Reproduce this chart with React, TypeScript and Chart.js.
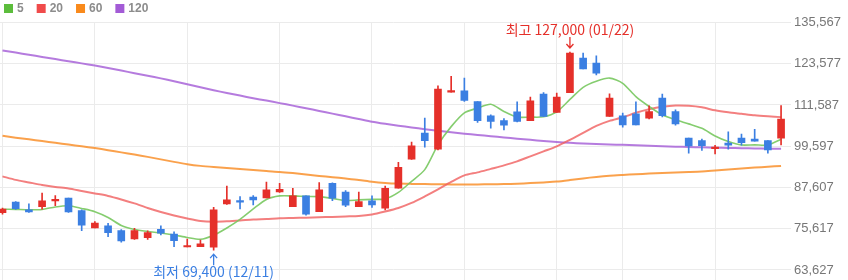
import React, { useEffect, useRef } from 'react';
import { Chart, registerables } from 'chart.js';

Chart.register(...registerables);

// ---- data ----
const opens = [
  80300, 83400, 81100, 82050, 83700, 84500, 80900, 75850, 76450, 75050,
  72650, 73050, 75450, 74100, 70300, 70400, 70250, 82850, 83700, 84800,
  84600, 86300, 82050, 85150, 80600, 88850, 86300, 82050, 83700, 81600,
  87400, 95850, 103400, 98750, 115350, 115700, 112600, 108450, 107050, 109600,
  107050, 114750, 109400, 115200, 125250, 123800, 108250, 108450, 109000, 107750,
  113600, 109700, 101950, 101250, 98900, 100500, 101950, 101650, 101250, 101950,
];
const highs = [
  81600, 83500, 82850, 85950, 85250, 84550, 81100, 77700, 77200, 75400,
  75750, 75000, 76500, 74750, 72600, 72350, 81850, 88050, 84950, 85250,
  89150, 88850, 87400, 85150, 89050, 88950, 86700, 86300, 85150, 88050,
  94950, 100800, 107750, 117150, 119900, 119400, 112600, 108750, 107650, 112500,
  113900, 115200, 115050, 127000, 126700, 125900, 114850, 109250, 112500, 111350,
  114750, 110200, 101950, 101650, 99900, 103800, 103100, 104550, 101250, 111450,
];
const lows = [
  79850, 81200, 80350, 81300, 82350, 80350, 75050, 75850, 73300, 71700,
  72500, 72550, 73800, 70400, 70300, 70400, 69400, 82700, 81400, 82550,
  84600, 86200, 82050, 79550, 80600, 83800, 82050, 82050, 81850, 81100,
  87400, 95800, 99350, 98550, 115350, 112600, 106500, 104850, 104350, 106700,
  107000, 108250, 109400, 115200, 122050, 120300, 108250, 105150, 105800, 107550,
  108150, 105750, 97600, 98350, 97400, 98750, 99900, 101050, 97600, 100000,
];
const closes = [
  81300, 81450, 80500, 83700, 84200, 80500, 76650, 77300, 74500, 72050,
  75050, 74500, 74300, 72150, 70500, 71200, 81100, 84000, 83350, 84000,
  86900, 87100, 85150, 79850, 86900, 84500, 82450, 83500, 82550, 87400,
  93500, 99700, 101250, 116200, 115700, 112900, 107050, 106800, 105750, 106800,
  112800, 108250, 113900, 126700, 122050, 120850, 113600, 105800, 105800, 109700,
  108450, 106100, 99700, 99800, 99350, 99900, 100650, 101050, 98550, 107500,
];
const ma5 = [
  81291, 81233, 81145, 81233, 81960, 82309, 81524, 80592, 78905, 76577,
  75413, 74831, 74394, 73812, 73085, 72561, 73750, 75849, 78323, 81378,
  84143, 85161, 85161, 85016, 84957, 84434, 83793, 83997, 84143, 84288,
  86180, 89400, 92800, 100000, 105300, 109300, 110700, 111800, 109700, 108063,
  108063, 108150, 109605, 113200, 116735, 118481, 119412, 117900, 114000, 111147,
  108732, 107277, 106100, 104800, 102600, 100962, 99950, 100002, 99950, 101600,
];
const ma20 = [
  90836, 89817, 89090, 88362, 87780, 87344, 86616, 85889, 85161, 84143,
  82979, 81669, 80505, 79487, 78614, 77886, 77682, 77799, 78032, 78323,
  78468, 78672, 78759, 78846, 78963, 79050, 79196, 79341, 79778, 80651,
  81669, 83124, 85016, 87053, 89235, 91127, 92000, 93018, 94037, 95201,
  96656, 98111, 99566, 101457, 103494, 105531, 106986, 108005, 109314, 110333,
  111060, 111438, 111351, 110915, 110042, 109460, 109023, 108587, 108296, 108063,
];
const ma60 = [
  102621, 102097, 101603, 101108, 100584, 100089, 99595, 99071, 98460, 97820,
  97179, 96510, 95783, 95055, 94386, 93891, 93542, 93251, 92960, 92669,
  92378, 92145, 91796, 91388, 90981, 90603, 90224, 89817, 89293, 88944,
  88740, 88653, 88595, 88537, 88508, 88508, 88508, 88537, 88595, 88711,
  88886, 89090, 89322, 89759, 90254, 90690, 91039, 91272, 91476, 91650,
  91825, 91970, 92116, 92291, 92582, 92873, 93134, 93396, 93658, 93891,
];
const ma120 = [
  127444, 126832, 126192, 125552, 124941, 124301, 123689, 123049, 122351, 121594,
  120838, 120081, 119324, 118510, 117637, 116735, 115891, 115076, 114319, 113563,
  112864, 112137, 111409, 110653, 109867, 109081, 108296, 107510, 106724, 106113,
  105560, 105065, 104571, 104105, 103669, 103261, 102883, 102505, 102155, 101806,
  101457, 101137, 100817, 100584, 100409, 100264, 100118, 100002, 99857, 99711,
  99595, 99478, 99362, 99275, 99187, 99100, 99013, 98954, 98896, 98838,
];
const maLabels = ['5', '20', '60', '120'];
const yTicks = [63627, 75617, 87607, 99597, 111587, 123577, 135567];
const xGridAt = [0, 7, 14, 21, 28, 35, 42, 47, 54];
const hiDate = '01/22';
const loDate = '12/11';

// ---- styles ----
const UP = '#e5302a';
const DOWN = '#3b7fe2';
const MA_SOLID = ['#5cbd3c', '#f04b4b', '#f98a1c', '#a35bd6'];
const MA_LINE = [
  'rgba(120,200,95,0.9)',
  'rgba(240,95,95,0.8)',
  'rgba(249,145,45,0.85)',
  'rgba(168,100,216,0.85)',
];
const GRID = '#ebebeb';
const fmt = (v: number) => Math.round(v).toLocaleString('en-US');

const legendPlugin = {
  id: 'maLegend',
  afterDraw(chart: any) {
    const ctx = chart.ctx;
    ctx.save();
    ctx.font = 'bold 12px "Liberation Sans", Arial, sans-serif';
    ctx.textBaseline = 'middle';
    ctx.textAlign = 'left';
    let x = 4;
    chart.data.datasets.forEach((ds: any) => {
      if (!maLabels.includes(ds.label)) return;
      ctx.fillStyle = ds.backgroundColor;
      ctx.fillRect(x, 4, 9, 9);
      ctx.fillStyle = '#8c8c8c';
      ctx.fillText(ds.label, x + 13, 9);
      x += 13 + ctx.measureText(ds.label).width + 13;
    });
    ctx.restore();
  },
};

const hiLoPlugin = {
  id: 'hiLo',
  afterDatasetsDraw(chart: any) {
    const ctx = chart.ctx;
    const xs = chart.scales.x;
    const ys = chart.scales.y;
    const hiV = Math.max(...highs);
    const loV = Math.min(...lows);
    const hiI = highs.indexOf(hiV);
    const loI = lows.indexOf(loV);
    ctx.save();
    ctx.font = '14px "Noto Sans CJK KR", sans-serif';
    ctx.textAlign = 'center';
    ctx.textBaseline = 'middle';
    ctx.lineWidth = 1.3;
    // high
    const hx = xs.getPixelForValue(hiI);
    const hy = ys.getPixelForValue(hiV);
    ctx.strokeStyle = UP;
    ctx.fillStyle = UP;
    ctx.beginPath();
    ctx.moveTo(hx, hy - 15);
    ctx.lineTo(hx, hy - 4);
    ctx.moveTo(hx - 3.5, hy - 8);
    ctx.lineTo(hx, hy - 4);
    ctx.lineTo(hx + 3.5, hy - 8);
    ctx.stroke();
    ctx.fillText(`최고 ${fmt(hiV)} (${hiDate})`, hx, hy - 22);
    // low
    const lx = xs.getPixelForValue(loI);
    const ly = ys.getPixelForValue(loV);
    ctx.strokeStyle = DOWN;
    ctx.fillStyle = DOWN;
    ctx.beginPath();
    ctx.moveTo(lx, ly + 15);
    ctx.lineTo(lx, ly + 4);
    ctx.moveTo(lx - 3.5, ly + 8);
    ctx.lineTo(lx, ly + 4);
    ctx.lineTo(lx + 3.5, ly + 8);
    ctx.stroke();
    ctx.fillText(`최저 ${fmt(loV)} (${loDate})`, lx, ly + 22);
    ctx.restore();
  },
};

export default function App() {
  const ref = useRef<HTMLCanvasElement | null>(null);

  useEffect(() => {
    if (!ref.current) return;
    const idx = closes.map((_, i) => i);
    const candleColors = idx.map((i) => (closes[i] >= opens[i] ? UP : DOWN));
    const maSeries = [ma5, ma20, ma60, ma120];

    const chart = new Chart(ref.current, {
      type: 'bar',
      data: {
        datasets: [
          ...maSeries.map((vals, k) => ({
            type: 'line' as const,
            label: maLabels[k],
            data: vals.map((v, i) => ({ x: i, y: v })),
            borderColor: MA_LINE[k],
            backgroundColor: MA_SOLID[k],
            borderWidth: k === 0 ? 1.6 : 2,
            pointRadius: 0,
            tension: 0.25,
            order: 2 + k,
          })),
          {
            type: 'bar' as const,
            label: 'wick',
            data: idx.map((i) => ({ x: i, y: [lows[i], highs[i]] })),
            backgroundColor: candleColors,
            barThickness: 1,
            grouped: false,
            order: 1,
          },
          {
            type: 'bar' as const,
            label: 'body',
            data: idx.map((i) => ({ x: i, y: [opens[i], closes[i]] })),
            backgroundColor: candleColors,
            barThickness: 7,
            minBarLength: 1.5,
            grouped: false,
            order: 0,
          },
        ] as any,
      },
      options: {
        responsive: false,
        animation: false,
        events: [],
        layout: { padding: { top: 22.5, right: 4, left: 0, bottom: 0 } },
        plugins: {
          legend: { display: false },
          tooltip: { enabled: false },
        },
        scales: {
          x: {
            type: 'linear',
            min: -0.19,
            max: 59.45,
            offset: false,
            afterBuildTicks: (s: any) => {
              s.ticks = xGridAt.map((v) => ({ value: v }));
            },
            afterFit: (s: any) => {
              s.height = 0;
              s.paddingLeft = 0;
              s.paddingRight = 0;
            },
            ticks: { display: false },
            grid: { color: GRID, drawTicks: false, offset: false },
            border: { display: false },
          },
          y: {
            position: 'right',
            min: 60720,
            max: 135567,
            afterBuildTicks: (s: any) => {
              s.ticks = yTicks.map((v) => ({ value: v }));
            },
            afterFit: (s: any) => {
              s.paddingTop = 0;
              s.paddingBottom = 0;
            },
            grid: { color: GRID, tickLength: 4, drawTicks: true },
            border: { display: false },
            ticks: {
              color: '#777777',
              padding: 3,
              font: { size: 13, family: '"Liberation Sans", Arial, sans-serif' },
              callback: (v: any) => fmt(Number(v)),
            },
          },
        } as any,
      },
      plugins: [legendPlugin, hiLoPlugin],
    });
    return () => chart.destroy();
  }, []);

  return (
    <div style={{ position: 'absolute', left: 0, top: 0, width: 848, height: 280, background: '#fff' }}>
      <canvas ref={ref} width={848} height={280} style={{ width: 848, height: 280, display: 'block' }} />
    </div>
  );
}
